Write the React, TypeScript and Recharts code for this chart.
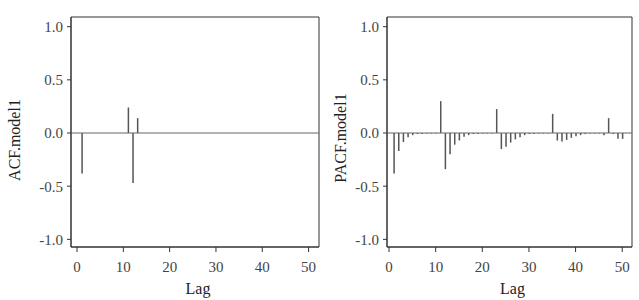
import { ComposedChart, Bar, XAxis, YAxis, ReferenceLine, ReferenceArea } from 'recharts';

const lags = [
  1, 2, 3, 4, 5, 6, 7, 8, 9, 10,
  11, 12, 13, 14, 15, 16, 17, 18, 19, 20,
  21, 22, 23, 24, 25, 26, 27, 28, 29, 30,
  31, 32, 33, 34, 35, 36, 37, 38, 39, 40,
  41, 42, 43, 44, 45, 46, 47, 48, 49, 50,
];

const acfValues = [
  -0.38, 0, 0, 0, 0, 0, 0, 0, 0, 0,
  0.24, -0.47, 0.14, 0, 0, 0, 0, 0, 0, 0,
  0, 0, 0, 0, 0, 0, 0, 0, 0, 0,
  0, 0, 0, 0, 0, 0, 0, 0, 0, 0,
  0, 0, 0, 0, 0, 0, 0, 0, 0, 0,
];

const pacfValues = [
  -0.38, -0.17, -0.085, -0.04, -0.02, -0.01, -0.01, -0.005, -0.005, -0.005,
  0.3, -0.34, -0.2, -0.11, -0.07, -0.035, -0.02, -0.01, -0.01, -0.005,
  -0.005, -0.005, 0.225, -0.15, -0.13, -0.09, -0.06, -0.04, -0.02, -0.01,
  -0.01, -0.005, -0.005, -0.005, 0.18, -0.07, -0.08, -0.065, -0.045, -0.03,
  -0.02, -0.01, -0.005, -0.005, -0.005, -0.02, 0.14, -0.01, -0.055, -0.055,
];

const xTicks = [0, 10, 20, 30, 40, 50];
const yTicks = [-1, -0.5, 0, 0.5, 1];
const yDomain: [number, number] = [-1.072, 1.091];

const font = '"Liberation Serif", "Times New Roman", serif';
const tickStyle = { fontSize: 15, fill: '#444', fontFamily: font };
const boxColor = '#333';

interface PanelProps {
  values: number[];
  ylab: string;
  width: number;
  yAxisWidth: number;
  rightMargin: number;
  xDomain: [number, number];
  ylabX: number;
  ylabY: number;
}

function CorrPanel({ values, ylab, width, yAxisWidth, rightMargin, xDomain, ylabX, ylabY }: PanelProps) {
  const data = lags.map((lag, i) => ({ lag, value: values[i] }));

  return (
    <ComposedChart
      width={width}
      height={300}
      data={data}
      margin={{ top: 17, right: rightMargin, bottom: 0, left: 0 }}
    >
      <XAxis
        dataKey="lag"
        type="number"
        domain={xDomain}
        ticks={xTicks}
        allowDataOverflow
        height={53}
        tick={tickStyle}
        tickSize={5}
        tickMargin={9}
        stroke={boxColor}
        label={{
          value: 'Lag',
          position: 'insideBottom',
          offset: 6,
          dx: 3,
          style: { fontSize: 16, fill: '#222', fontFamily: font },
        }}
      />
      <YAxis
        type="number"
        domain={yDomain}
        ticks={yTicks}
        allowDataOverflow
        width={yAxisWidth}
        tick={tickStyle}
        tickSize={4}
        tickMargin={4}
        tickFormatter={(v: number) => v.toFixed(1)}
        stroke={boxColor}
        label={{
          value: ylab,
          content: () => (
            <text
              x={ylabX}
              y={ylabY}
              transform={`rotate(-90 ${ylabX} ${ylabY})`}
              textAnchor="middle"
              fontSize={16}
              fill="#222"
              fontFamily={font}
            >
              {ylab}
            </text>
          ),
        }}
      />
      <ReferenceArea
        x1={xDomain[0]}
        x2={xDomain[1]}
        y1={yDomain[0]}
        y2={yDomain[1]}
        fill="none"
        fillOpacity={0}
        stroke={boxColor}
        strokeWidth={1}
      />
      <ReferenceLine y={0} stroke="#666" strokeWidth={1.2} />
      <Bar dataKey="value" fill="#555" barSize={1.5} isAnimationActive={false} />
    </ComposedChart>
  );
}

export default function App() {
  return (
    <div style={{ position: 'absolute', left: 0, top: 0, width: 639, height: 300, display: 'flex', background: '#fff' }}>
      <CorrPanel
        values={acfValues}
        ylab="ACF.model1"
        width={320}
        yAxisWidth={71}
        rightMargin={1}
        xDomain={[-1.3, 52.25]}
        ylabX={20}
        ylabY={140}
      />
      <CorrPanel
        values={pacfValues}
        ylab="PACF.model1"
        width={319}
        yAxisWidth={67}
        rightMargin={7}
        xDomain={[-0.43, 52.1]}
        ylabX={26}
        ylabY={138}
      />
    </div>
  );
}
